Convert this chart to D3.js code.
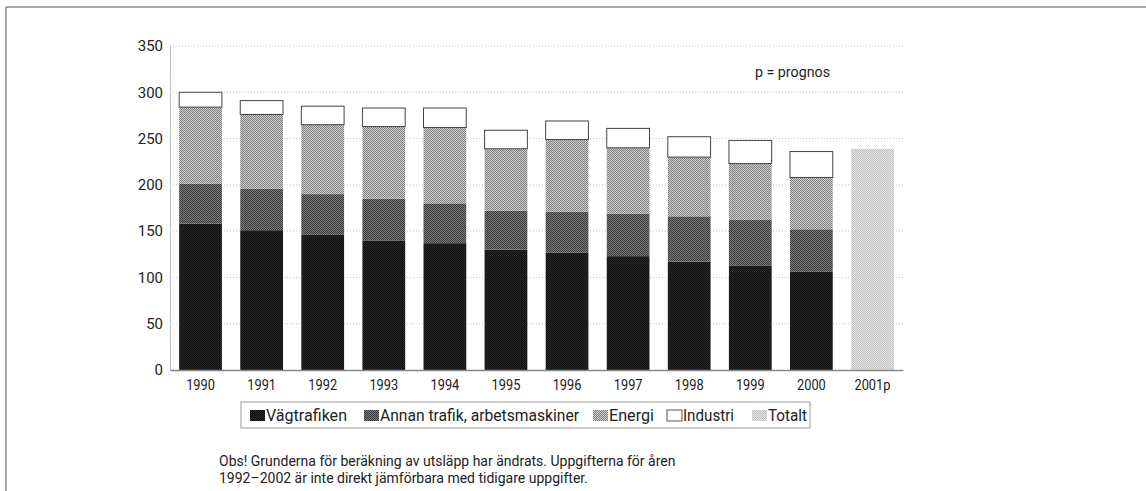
<!DOCTYPE html>
<html>
<head>
<meta charset="utf-8">
<script src="https://cdn.jsdelivr.net/npm/d3@7"></script>
<style>
  body { margin: 0; background: #fff; }
  svg text { font-family: "Liberation Sans Narrow", "Roboto", "DejaVu Sans Condensed", sans-serif; fill: #222; }
</style>
</head>
<body>
<svg id="chart" width="1146" height="491"></svg>
<script>
// values
var years = ["1990", "1991", "1992", "1993", "1994", "1995", "1996", "1997", "1998", "1999", "2000", "2001p"];
var vagtrafik = [158, 151, 146, 140, 137, 130, 127, 123, 117, 113, 106, 0];
var annanTrafik = [43, 45, 44, 45, 43, 42, 44, 46, 49, 49, 46, 0];
var energi = [83, 80, 75, 78, 82, 67, 78, 71, 64, 61, 56, 0];
var industri = [16, 15, 20, 20, 21, 20, 20, 21, 22, 25, 28, 0];
var totalt = [0, 0, 0, 0, 0, 0, 0, 0, 0, 0, 0, 239];
var yTicks = [0, 50, 100, 150, 200, 250, 300, 350];
var seriesNames = ["Vägtrafiken", "Annan trafik, arbetsmaskiner", "Energi", "Industri", "Totalt"];

var svg = d3.select("#chart");
var margin = {top: 46, left: 170, right: 243, bottom: 121};
var width = 1146 - margin.left - margin.right;
var height = 491 - margin.top - margin.bottom;

// frame lines (top and left only)
svg.append("line").attr("x1", 6).attr("x2", 1146).attr("y1", 7).attr("y2", 7)
    .attr("stroke", "#8a8a8a").attr("stroke-width", 1.5);
svg.append("line").attr("x1", 6).attr("x2", 6).attr("y1", 7).attr("y2", 491)
    .attr("stroke", "#8a8a8a").attr("stroke-width", 1.5);

// fill textures
var defs = svg.append("defs");
function checker(id, a, b) {
    var p = defs.append("pattern").attr("id", id).attr("patternUnits", "userSpaceOnUse")
        .attr("width", 2).attr("height", 2);
    p.append("rect").attr("width", 2).attr("height", 2).attr("fill", b);
    p.append("rect").attr("width", 1).attr("height", 1).attr("fill", a);
    p.append("rect").attr("x", 1).attr("y", 1).attr("width", 1).attr("height", 1).attr("fill", a);
}
checker("pVag", "#111", "#262626");
checker("pAnnan", "#3a3a3a", "#7a7a7a");
checker("pEnergi", "#808080", "#cdcdcd");
checker("pTotalt", "#c0c0c0", "#e6e6e6");

var fills = ["url(#pVag)", "url(#pAnnan)", "url(#pEnergi)", "#fff", "url(#pTotalt)"];
var strokes = ["none", "none", "none", "#444", "none"];

var g = svg.append("g").attr("transform", "translate(" + margin.left + "," + margin.top + ")");

var x = d3.scaleBand().domain(years).range([0, width]).paddingInner(0.3).paddingOuter(0.15);
var y = d3.scaleLinear().domain([0, 350]).range([height, 0]);

// dotted gridlines
g.selectAll(".grid").data(yTicks.filter(function(d) { return d > 0; })).enter()
    .append("line").attr("class", "grid")
    .attr("x1", 0).attr("x2", width)
    .attr("y1", function(d) { return y(d); }).attr("y2", function(d) { return y(d); })
    .attr("stroke", "#c8c8c8").attr("stroke-dasharray", "1,2");

var rows = years.map(function(yr, i) {
    return {year: yr, s0: vagtrafik[i], s1: annanTrafik[i], s2: energi[i], s3: industri[i], s4: totalt[i]};
});
var stack = d3.stack().keys(["s0", "s1", "s2", "s3", "s4"]);
var layers = stack(rows);

g.selectAll(".layer").data(layers).enter().append("g")
    .attr("fill", function(d, i) { return fills[i]; })
    .attr("stroke", function(d, i) { return strokes[i]; })
    .selectAll("rect").data(function(d) { return d.filter(function(v) { return v[1] - v[0] > 0; }); })
    .enter().append("rect")
    .attr("x", function(d) { return x(d.data.year); })
    .attr("width", x.bandwidth())
    .attr("y", function(d) { return y(d[1]); })
    .attr("height", function(d) { return y(d[0]) - y(d[1]); });

// axes
var yAxis = g.append("g").call(d3.axisLeft(y).tickValues(yTicks).tickSize(0).tickPadding(7));
yAxis.select(".domain").attr("stroke", "#bbb");
yAxis.selectAll("text").attr("font-size", 15);

var xAxis = g.append("g").attr("transform", "translate(0," + height + ")")
    .call(d3.axisBottom(x).tickSize(0).tickPadding(9));
xAxis.select(".domain").attr("stroke", "#888").attr("stroke-width", 1.5);
xAxis.selectAll("text").attr("font-size", 15).attr("textLength", function(d) { return d.length * 7.2; })
    .attr("lengthAdjust", "spacingAndGlyphs");

g.append("text").attr("x", 585).attr("y", 31).attr("font-size", 15)
    .attr("textLength", 75).attr("lengthAdjust", "spacingAndGlyphs").text("p = prognos");

// legend
var legend = svg.append("g").attr("transform", "translate(241,402)");
legend.append("rect").attr("width", 569).attr("height", 26).attr("fill", "#fff")
    .attr("stroke", "#999");
var swatchX = [9, 123, 352, 426, 511];
var labelW = [81, 199, 45, 51, 39];
var item = legend.selectAll(".item").data(seriesNames).enter().append("g")
    .attr("transform", function(d, i) { return "translate(" + swatchX[i] + ",0)"; });
item.append("rect").attr("y", 8).attr("width", 15).attr("height", 11)
    .attr("fill", function(d, i) { return fills[i]; })
    .attr("stroke", function(d, i) { return i === 3 ? "#555" : "none"; });
item.append("text").attr("x", 16).attr("y", 19).attr("font-size", 16)
    .attr("textLength", function(d, i) { return labelW[i]; })
    .attr("lengthAdjust", "spacingAndGlyphs")
    .text(function(d) { return d; });

// footnote
var note = svg.append("text").attr("font-size", 14);
note.append("tspan").attr("x", 219).attr("y", 466)
    .text("Obs! Grunderna för beräkning av utsläpp har ändrats. Uppgifterna för åren");
note.append("tspan").attr("x", 219).attr("y", 483)
    .text("1992–2002 är inte direkt jämförbara med tidigare uppgifter.");
</script>
</body>
</html>
